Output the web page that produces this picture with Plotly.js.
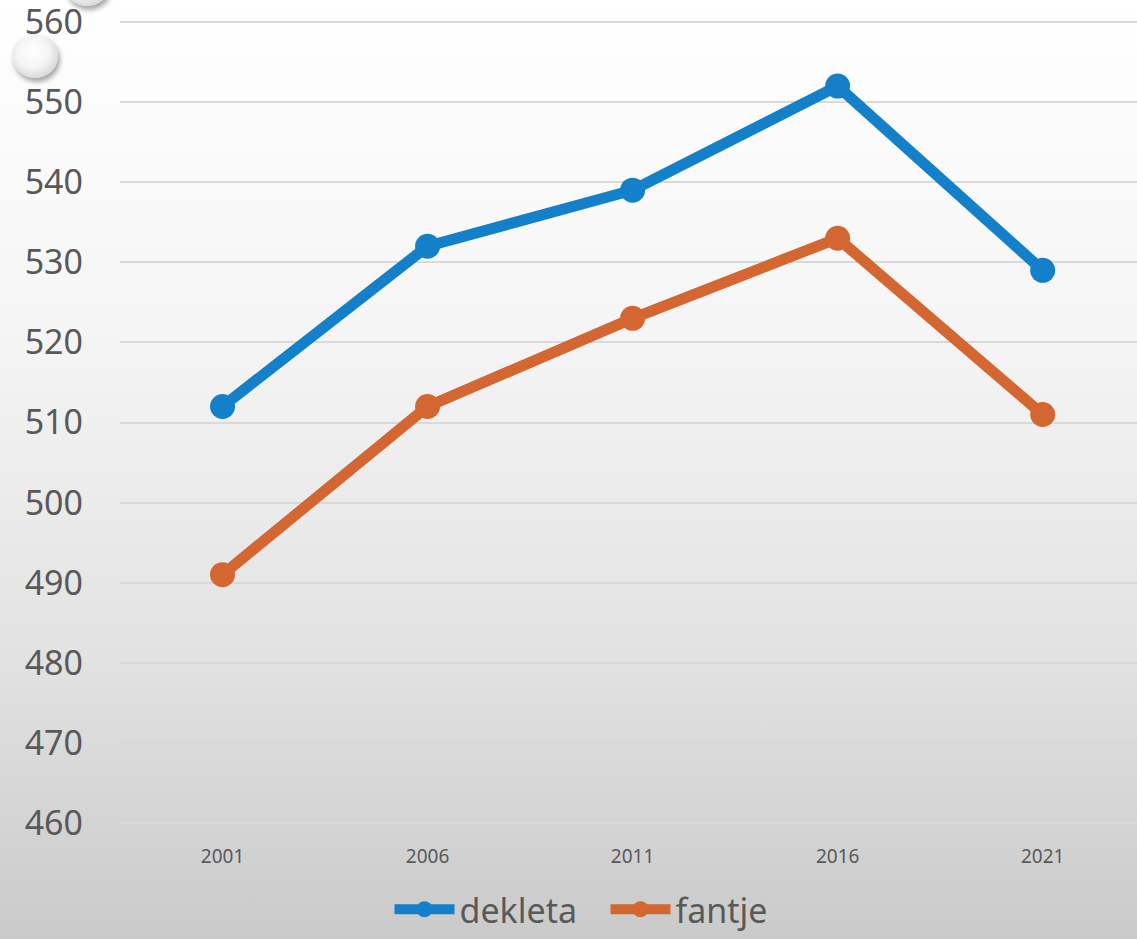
<!DOCTYPE html>
<html>
<head>
<meta charset="utf-8">
<script src="https://cdn.plot.ly/plotly-3.0.1.min.js"></script>
<style>
html,body{margin:0;padding:0;width:1137px;height:939px;overflow:hidden;}
body{background:linear-gradient(to bottom,#ffffff 0%,#f5f5f5 35%,#e2e2e2 70%,#cacaca 100%);position:relative;}
#chart{width:1137px;height:939px;position:absolute;left:0;top:0;}
.knob{position:absolute;border-radius:50%;
 background:radial-gradient(circle at 45% 40%,#ffffff 0%,#f4f4f4 45%,#d8d8d8 75%,#a9a9a9 100%);
 box-shadow:2px 4px 5px rgba(0,0,0,0.35);}
</style>
</head>
<body>
<div class="knob" style="left:12px;top:34px;width:46px;height:44px;"></div>
<div class="knob" style="left:64px;top:-38px;width:46px;height:44px;"></div>
<div id="chart"></div>
<script>
const years = ['2001','2006','2011','2016','2021'];
const dekleta = [512, 532, 539, 552, 529];
const fantje = [491, 512, 523, 533, 511];
const seriesNames = ['dekleta','fantje'];
const yTicks = [460,470,480,490,500,510,520,530,540,550,560];

const font = "'Noto Sans', 'DejaVu Sans', sans-serif";
const traces = [
  {x: years, y: dekleta, name: seriesNames[0], type:'scatter', mode:'lines+markers',
   line:{color:'#1480c9', width:11}, marker:{color:'#1480c9', size:25}},
  {x: years, y: fantje, name: seriesNames[1], type:'scatter', mode:'lines+markers',
   line:{color:'#d46631', width:11}, marker:{color:'#d46631', size:25}}
];
const layout = {
  width:1137, height:939,
  margin:{l:120, r:0, t:20, b:101},
  paper_bgcolor:'rgba(0,0,0,0)', plot_bgcolor:'rgba(0,0,0,0)',
  showlegend:true,
  legend:{orientation:'h', x:0.265, xanchor:'left', y:-0.097, yanchor:'middle',
          font:{family:font, size:34, color:'#595959'}, itemwidth:60, traceorder:'normal',
          entrywidth:141, entrywidthmode:'pixels'},
  xaxis:{type:'category', range:[-0.5,4.46], showgrid:false, zeroline:false, showline:false,
         ticks:'', tickfont:{family:font, size:19, color:'#595959'}, ticklabelstandoff:12, fixedrange:true},
  yaxis:{range:[459,560.25], tickvals:yTicks, showgrid:true, gridcolor:'#d9d9d9', gridwidth:2,
         zeroline:false, showline:false, ticks:'', tickfont:{family:font, size:34, color:'#595959'},
         ticklabelstandoff:36, ticklabeloverflow:'allow', fixedrange:true}
};
Plotly.newPlot('chart', traces, layout, {displayModeBar:false, staticPlot:true});
</script>
</body>
</html>
